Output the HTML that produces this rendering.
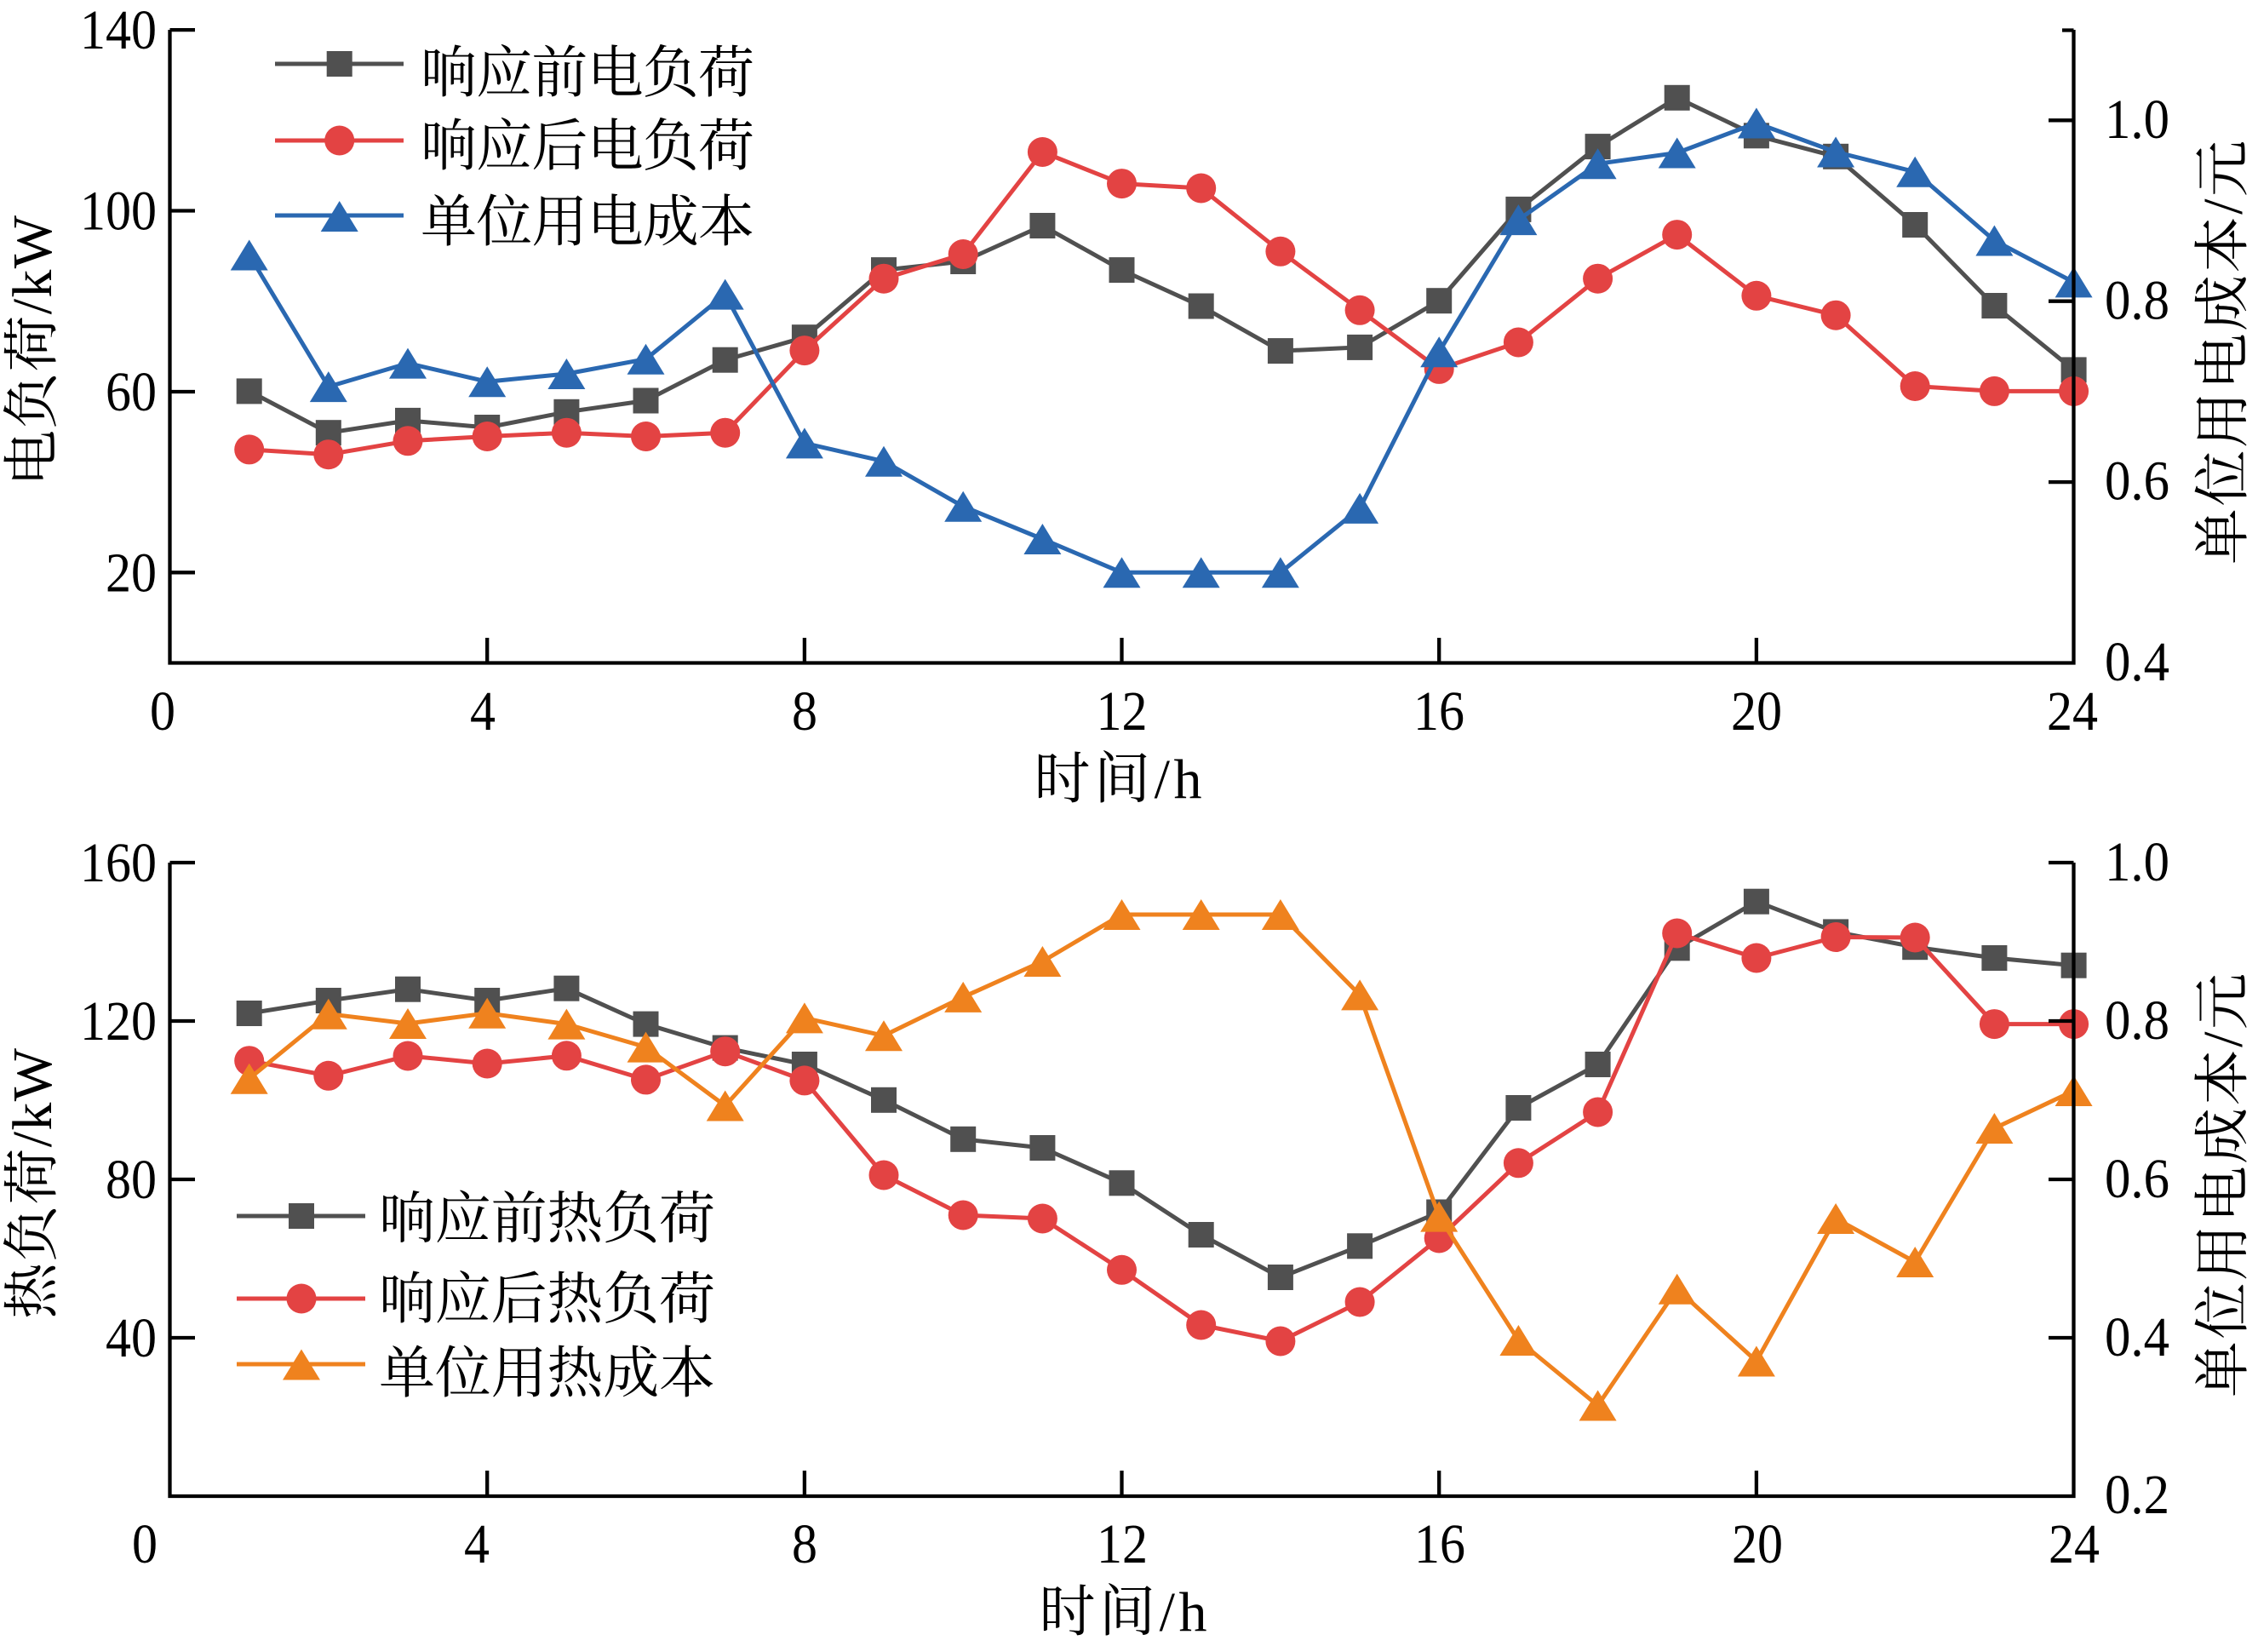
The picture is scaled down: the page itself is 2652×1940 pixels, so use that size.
<!DOCTYPE html>
<html>
<head>
<meta charset="utf-8">
<style>
html,body{margin:0;padding:0;background:#fff;}
svg{display:block;}
text{font-family:"Liberation Serif","Noto Serif CJK SC",serif;fill:#000;}
.n{font-size:66px;}
.c{font-size:66px;font-family:"Liberation Serif","Noto Serif CJK SC",serif;}
</style>
</head>
<body>
<svg width="2652" height="1940" viewBox="0 0 2652 1940" xmlns="http://www.w3.org/2000/svg">
<rect x="0" y="0" width="2652" height="1940" fill="#fff"/>
<defs>
<rect id="sq" x="-15" y="-15" width="30" height="30"/>
<circle id="ci" r="17.5"/>
<polygon id="tr" points="0,-18 -22,18 22,18"/>
</defs>

<!-- ================= TOP CHART ================= -->
<!-- gray -->
<g fill="#505050">
<polyline fill="none" stroke="#505050" stroke-width="5" stroke-linejoin="round" points="292.7,459.4 385.8,508.2 479,493.9 572.2,502 665.4,483.8 758.5,470.5 851.7,422.7 944.9,396.2 1038,317.1 1131.2,307 1224.4,265 1317.5,317.1 1410.7,359.5 1503.9,412.1 1597.1,407.9 1690.2,353.2 1783.4,245.9 1876.6,172.1 1969.7,114.8 2062.9,159.3 2156.1,183.8 2249.2,264 2342.4,359 2435.6,434.4"/>
<use href="#sq" x="292.7" y="459.4"/><use href="#sq" x="385.8" y="508.2"/><use href="#sq" x="479" y="493.9"/><use href="#sq" x="572.2" y="502"/><use href="#sq" x="665.4" y="483.8"/><use href="#sq" x="758.5" y="470.5"/><use href="#sq" x="851.7" y="422.7"/><use href="#sq" x="944.9" y="396.2"/><use href="#sq" x="1038" y="317.1"/><use href="#sq" x="1131.2" y="307"/><use href="#sq" x="1224.4" y="265"/><use href="#sq" x="1317.5" y="317.1"/><use href="#sq" x="1410.7" y="359.5"/><use href="#sq" x="1503.9" y="412.1"/><use href="#sq" x="1597.1" y="407.9"/><use href="#sq" x="1690.2" y="353.2"/><use href="#sq" x="1783.4" y="245.9"/><use href="#sq" x="1876.6" y="172.1"/><use href="#sq" x="1969.7" y="114.8"/><use href="#sq" x="2062.9" y="159.3"/><use href="#sq" x="2156.1" y="183.8"/><use href="#sq" x="2249.2" y="264"/><use href="#sq" x="2342.4" y="359"/><use href="#sq" x="2435.6" y="434.4"/>
</g>
<!-- red -->
<g fill="#e34343">
<polyline fill="none" stroke="#e34343" stroke-width="5" stroke-linejoin="round" points="292.7,527.9 385.8,533.7 479,517.8 572.2,512.5 665.4,508.2 758.5,512.5 851.7,508.2 944.9,411.6 1038,327.2 1131.2,298.5 1224.4,178.5 1317.5,215.6 1410.7,221 1503.9,295.3 1597.1,364.3 1690.2,433.4 1783.4,402 1876.6,327.2 1969.7,275.6 2062.9,347.3 2156.1,370.2 2249.2,453.5 2342.4,459.4 2435.6,459.4"/>
<use href="#ci" x="292.7" y="527.9"/><use href="#ci" x="385.8" y="533.7"/><use href="#ci" x="479" y="517.8"/><use href="#ci" x="572.2" y="512.5"/><use href="#ci" x="665.4" y="508.2"/><use href="#ci" x="758.5" y="512.5"/><use href="#ci" x="851.7" y="508.2"/><use href="#ci" x="944.9" y="411.6"/><use href="#ci" x="1038" y="327.2"/><use href="#ci" x="1131.2" y="298.5"/><use href="#ci" x="1224.4" y="178.5"/><use href="#ci" x="1317.5" y="215.6"/><use href="#ci" x="1410.7" y="221"/><use href="#ci" x="1503.9" y="295.3"/><use href="#ci" x="1597.1" y="364.3"/><use href="#ci" x="1690.2" y="433.4"/><use href="#ci" x="1783.4" y="402"/><use href="#ci" x="1876.6" y="327.2"/><use href="#ci" x="1969.7" y="275.6"/><use href="#ci" x="2062.9" y="347.3"/><use href="#ci" x="2156.1" y="370.2"/><use href="#ci" x="2249.2" y="453.5"/><use href="#ci" x="2342.4" y="459.4"/><use href="#ci" x="2435.6" y="459.4"/>
</g>
<!-- blue -->
<g fill="#2a68b1">
<polyline fill="none" stroke="#2a68b1" stroke-width="5" stroke-linejoin="round" points="292.7,299.5 385.8,454.1 479,426.6 572.2,448.2 665.4,439 758.5,421.7 851.7,345.6 944.9,520.4 1038,541.7 1131.2,594.8 1224.4,633 1317.5,672.3 1410.7,672.3 1503.9,672.3 1597.1,596.9 1690.2,413.2 1783.4,258.1 1876.6,192.3 1969.7,179.5 2062.9,144.5 2156.1,178.5 2249.2,201.8 2342.4,282.5 2435.6,331.4"/>
<use href="#tr" x="292.7" y="299.5"/><use href="#tr" x="385.8" y="454.1"/><use href="#tr" x="479" y="426.6"/><use href="#tr" x="572.2" y="448.2"/><use href="#tr" x="665.4" y="439"/><use href="#tr" x="758.5" y="421.7"/><use href="#tr" x="851.7" y="345.6"/><use href="#tr" x="944.9" y="520.4"/><use href="#tr" x="1038" y="541.7"/><use href="#tr" x="1131.2" y="594.8"/><use href="#tr" x="1224.4" y="633"/><use href="#tr" x="1317.5" y="672.3"/><use href="#tr" x="1410.7" y="672.3"/><use href="#tr" x="1503.9" y="672.3"/><use href="#tr" x="1597.1" y="596.9"/><use href="#tr" x="1690.2" y="413.2"/><use href="#tr" x="1783.4" y="258.1"/><use href="#tr" x="1876.6" y="192.3"/><use href="#tr" x="1969.7" y="179.5"/><use href="#tr" x="2062.9" y="144.5"/><use href="#tr" x="2156.1" y="178.5"/><use href="#tr" x="2249.2" y="201.8"/><use href="#tr" x="2342.4" y="282.5"/><use href="#tr" x="2435.6" y="331.4"/>
</g>

<!-- top axes -->
<g stroke="#000" stroke-width="4.3" fill="none">
<path d="M199.5,35 V778.5 H2435.5 V35"/>
<path d="M199.5,35.1 H229 M199.5,247.5 H229 M199.5,460 H229 M199.5,672.3 H229"/>
<path d="M2435.5,141.3 H2406 M2435.5,353.7 H2406 M2435.5,566.1 H2406 M2435.5,35.5 H2422"/>
<path d="M572.2,778.5 V749 M944.9,778.5 V749 M1317.5,778.5 V749 M1690.2,778.5 V749 M2062.9,778.5 V749"/>
</g>

<!-- top tick labels -->
<g class="n" text-anchor="end">
<text x="184" y="57" textLength="90" lengthAdjust="spacingAndGlyphs">140</text>
<text x="184" y="269.5" textLength="90" lengthAdjust="spacingAndGlyphs">100</text>
<text x="184" y="482" textLength="60" lengthAdjust="spacingAndGlyphs">60</text>
<text x="184" y="694.3" textLength="60" lengthAdjust="spacingAndGlyphs">20</text>
</g>
<g class="n" text-anchor="start">
<text x="2472" y="162" textLength="76" lengthAdjust="spacingAndGlyphs">1.0</text>
<text x="2472" y="374.5" textLength="76" lengthAdjust="spacingAndGlyphs">0.8</text>
<text x="2472" y="586.5" textLength="76" lengthAdjust="spacingAndGlyphs">0.6</text>
<text x="2472" y="799" textLength="76" lengthAdjust="spacingAndGlyphs">0.4</text>
</g>
<g class="n" text-anchor="middle">
<text x="191" y="857" textLength="30" lengthAdjust="spacingAndGlyphs">0</text>
<text x="567" y="857" textLength="30" lengthAdjust="spacingAndGlyphs">4</text>
<text x="945" y="857" textLength="30" lengthAdjust="spacingAndGlyphs">8</text>
<text x="1317.5" y="857" textLength="60" lengthAdjust="spacingAndGlyphs">12</text>
<text x="1690" y="857" textLength="60" lengthAdjust="spacingAndGlyphs">16</text>
<text x="2063" y="857" textLength="60" lengthAdjust="spacingAndGlyphs">20</text>
<text x="2434" y="857" textLength="60" lengthAdjust="spacingAndGlyphs">24</text>
</g>

<!-- top titles -->
<text class="c" x="1313" y="937" text-anchor="middle" textLength="197" lengthAdjust="spacing">时间/h</text>
<text class="c" transform="translate(60,412) rotate(-90)" text-anchor="middle" textLength="318" lengthAdjust="spacing">电负荷/kW</text>
<text class="c" transform="translate(2633,414) rotate(-90)" text-anchor="middle" textLength="498" lengthAdjust="spacing">单位用电成本/元</text>

<!-- top legend -->
<g stroke-width="5">
<line x1="323" y1="75" x2="474" y2="75" stroke="#505050"/>
<use href="#sq" x="398.7" y="75" fill="#505050"/>
<line x1="323" y1="165" x2="474" y2="165" stroke="#e34343"/>
<use href="#ci" x="398.7" y="165" fill="#e34343"/>
<line x1="323" y1="253" x2="474" y2="253" stroke="#2a68b1"/>
<use href="#tr" x="398.7" y="254" fill="#2a68b1"/>
</g>
<text class="c" x="494" y="108" textLength="392" lengthAdjust="spacing">响应前电负荷</text>
<text class="c" x="494" y="194" textLength="392" lengthAdjust="spacing">响应后电负荷</text>
<text class="c" x="494" y="283" textLength="392" lengthAdjust="spacing">单位用电成本</text>

<!-- ================= BOTTOM CHART ================= -->
<g fill="#505050">
<polyline fill="none" stroke="#505050" stroke-width="5" stroke-linejoin="round" points="292.7,1190 385.8,1175 479,1161.7 572.2,1175 665.4,1160.7 758.5,1202.6 851.7,1230.6 944.9,1250 1038,1291.8 1131.2,1337.8 1224.4,1348 1317.5,1389.3 1410.7,1450 1503.9,1500 1597.1,1463.3 1690.2,1423.5 1783.4,1301 1876.6,1250 1969.7,1113.3 2062.9,1058.7 2156.1,1094.4 2249.2,1112.2 2342.4,1125 2435.6,1133.7"/>
<use href="#sq" x="292.7" y="1190"/><use href="#sq" x="385.8" y="1175"/><use href="#sq" x="479" y="1161.7"/><use href="#sq" x="572.2" y="1175"/><use href="#sq" x="665.4" y="1160.7"/><use href="#sq" x="758.5" y="1202.6"/><use href="#sq" x="851.7" y="1230.6"/><use href="#sq" x="944.9" y="1250"/><use href="#sq" x="1038" y="1291.8"/><use href="#sq" x="1131.2" y="1337.8"/><use href="#sq" x="1224.4" y="1348"/><use href="#sq" x="1317.5" y="1389.3"/><use href="#sq" x="1410.7" y="1450"/><use href="#sq" x="1503.9" y="1500"/><use href="#sq" x="1597.1" y="1463.3"/><use href="#sq" x="1690.2" y="1423.5"/><use href="#sq" x="1783.4" y="1301"/><use href="#sq" x="1876.6" y="1250"/><use href="#sq" x="1969.7" y="1113.3"/><use href="#sq" x="2062.9" y="1058.7"/><use href="#sq" x="2156.1" y="1094.4"/><use href="#sq" x="2249.2" y="1112.2"/><use href="#sq" x="2342.4" y="1125"/><use href="#sq" x="2435.6" y="1133.7"/>
</g>
<g fill="#e34343">
<polyline fill="none" stroke="#e34343" stroke-width="5" stroke-linejoin="round" points="292.7,1245.7 385.8,1263.3 479,1240 572.2,1249 665.4,1239.8 758.5,1267.9 851.7,1234.7 944.9,1268.9 1038,1380 1131.2,1427 1224.4,1431 1317.5,1491.3 1410.7,1556 1503.9,1575 1597.1,1529 1690.2,1454 1783.4,1365.8 1876.6,1306 1969.7,1096 2062.9,1125 2156.1,1100.5 2249.2,1101 2342.4,1202.6 2435.6,1202.6"/>
<use href="#ci" x="292.7" y="1245.7"/><use href="#ci" x="385.8" y="1263.3"/><use href="#ci" x="479" y="1240"/><use href="#ci" x="572.2" y="1249"/><use href="#ci" x="665.4" y="1239.8"/><use href="#ci" x="758.5" y="1267.9"/><use href="#ci" x="851.7" y="1234.7"/><use href="#ci" x="944.9" y="1268.9"/><use href="#ci" x="1038" y="1380"/><use href="#ci" x="1131.2" y="1427"/><use href="#ci" x="1224.4" y="1431"/><use href="#ci" x="1317.5" y="1491.3"/><use href="#ci" x="1410.7" y="1556"/><use href="#ci" x="1503.9" y="1575"/><use href="#ci" x="1597.1" y="1529"/><use href="#ci" x="1690.2" y="1454"/><use href="#ci" x="1783.4" y="1365.8"/><use href="#ci" x="1876.6" y="1306"/><use href="#ci" x="1969.7" y="1096"/><use href="#ci" x="2062.9" y="1125"/><use href="#ci" x="2156.1" y="1100.5"/><use href="#ci" x="2249.2" y="1101"/><use href="#ci" x="2342.4" y="1202.6"/><use href="#ci" x="2435.6" y="1202.6"/>
</g>
<g fill="#ef821e">
<polyline fill="none" stroke="#ef821e" stroke-width="5" stroke-linejoin="round" points="292.7,1266.7 385.8,1190.7 479,1202 572.2,1189.8 665.4,1202.6 758.5,1229.6 851.7,1298.5 944.9,1195.4 1038,1216.3 1131.2,1170.9 1224.4,1129 1317.5,1074 1410.7,1074 1503.9,1074 1597.1,1168.4 1690.2,1428.6 1783.4,1574 1876.6,1650.5 1969.7,1513.8 2062.9,1598.5 2156.1,1431 2249.2,1482 2342.4,1325 2435.6,1281"/>
<use href="#tr" x="292.7" y="1266.7"/><use href="#tr" x="385.8" y="1190.7"/><use href="#tr" x="479" y="1202"/><use href="#tr" x="572.2" y="1189.8"/><use href="#tr" x="665.4" y="1202.6"/><use href="#tr" x="758.5" y="1229.6"/><use href="#tr" x="851.7" y="1298.5"/><use href="#tr" x="944.9" y="1195.4"/><use href="#tr" x="1038" y="1216.3"/><use href="#tr" x="1131.2" y="1170.9"/><use href="#tr" x="1224.4" y="1129"/><use href="#tr" x="1317.5" y="1074"/><use href="#tr" x="1410.7" y="1074"/><use href="#tr" x="1503.9" y="1074"/><use href="#tr" x="1597.1" y="1168.4"/><use href="#tr" x="1690.2" y="1428.6"/><use href="#tr" x="1783.4" y="1574"/><use href="#tr" x="1876.6" y="1650.5"/><use href="#tr" x="1969.7" y="1513.8"/><use href="#tr" x="2062.9" y="1598.5"/><use href="#tr" x="2156.1" y="1431"/><use href="#tr" x="2249.2" y="1482"/><use href="#tr" x="2342.4" y="1325"/><use href="#tr" x="2435.6" y="1281"/>
</g>

<!-- bottom axes -->
<g stroke="#000" stroke-width="4.3" fill="none">
<path d="M199.5,1013 V1757 H2435.5 V1013"/>
<path d="M199.5,1013 H229 M199.5,1199 H229 M199.5,1385 H229 M199.5,1571 H229"/>
<path d="M2435.5,1013 H2406 M2435.5,1199 H2406 M2435.5,1385 H2406 M2435.5,1571 H2406"/>
<path d="M572.2,1757 V1727 M944.9,1757 V1727 M1317.5,1757 V1727 M1690.2,1757 V1727 M2062.9,1757 V1727"/>
</g>

<!-- bottom tick labels -->
<g class="n" text-anchor="end">
<text x="184" y="1035" textLength="90" lengthAdjust="spacingAndGlyphs">160</text>
<text x="184" y="1221" textLength="90" lengthAdjust="spacingAndGlyphs">120</text>
<text x="184" y="1407" textLength="60" lengthAdjust="spacingAndGlyphs">80</text>
<text x="184" y="1593" textLength="60" lengthAdjust="spacingAndGlyphs">40</text>
</g>
<g class="n" text-anchor="start">
<text x="2472" y="1034" textLength="76" lengthAdjust="spacingAndGlyphs">1.0</text>
<text x="2472" y="1220" textLength="76" lengthAdjust="spacingAndGlyphs">0.8</text>
<text x="2472" y="1406" textLength="76" lengthAdjust="spacingAndGlyphs">0.6</text>
<text x="2472" y="1592" textLength="76" lengthAdjust="spacingAndGlyphs">0.4</text>
<text x="2472" y="1777" textLength="76" lengthAdjust="spacingAndGlyphs">0.2</text>
</g>
<g class="n" text-anchor="middle">
<text x="170" y="1835" textLength="30" lengthAdjust="spacingAndGlyphs">0</text>
<text x="560" y="1835" textLength="30" lengthAdjust="spacingAndGlyphs">4</text>
<text x="945" y="1835" textLength="30" lengthAdjust="spacingAndGlyphs">8</text>
<text x="1318" y="1835" textLength="60" lengthAdjust="spacingAndGlyphs">12</text>
<text x="1691" y="1835" textLength="60" lengthAdjust="spacingAndGlyphs">16</text>
<text x="2064" y="1835" textLength="60" lengthAdjust="spacingAndGlyphs">20</text>
<text x="2436" y="1835" textLength="60" lengthAdjust="spacingAndGlyphs">24</text>
</g>

<!-- bottom titles -->
<text class="c" x="1319" y="1915" text-anchor="middle" textLength="197" lengthAdjust="spacing">时间/h</text>
<text class="c" transform="translate(60,1390) rotate(-90)" text-anchor="middle" textLength="318" lengthAdjust="spacing">热负荷/kW</text>
<text class="c" transform="translate(2633,1392) rotate(-90)" text-anchor="middle" textLength="498" lengthAdjust="spacing">单位用电成本/元</text>

<!-- bottom legend -->
<g stroke-width="5">
<line x1="278" y1="1428" x2="429" y2="1428" stroke="#505050"/>
<use href="#sq" x="354" y="1428" fill="#505050"/>
<line x1="278" y1="1525" x2="429" y2="1525" stroke="#e34343"/>
<use href="#ci" x="354" y="1525" fill="#e34343"/>
<line x1="278" y1="1602" x2="429" y2="1602" stroke="#ef821e"/>
<use href="#tr" x="354" y="1602.5" fill="#ef821e"/>
</g>
<text class="c" x="445" y="1453.5" textLength="395" lengthAdjust="spacing">响应前热负荷</text>
<text class="c" x="445" y="1548" textLength="395" lengthAdjust="spacing">响应后热负荷</text>
<text class="c" x="445" y="1635" textLength="395" lengthAdjust="spacing">单位用热成本</text>
</svg>
</body>
</html>
